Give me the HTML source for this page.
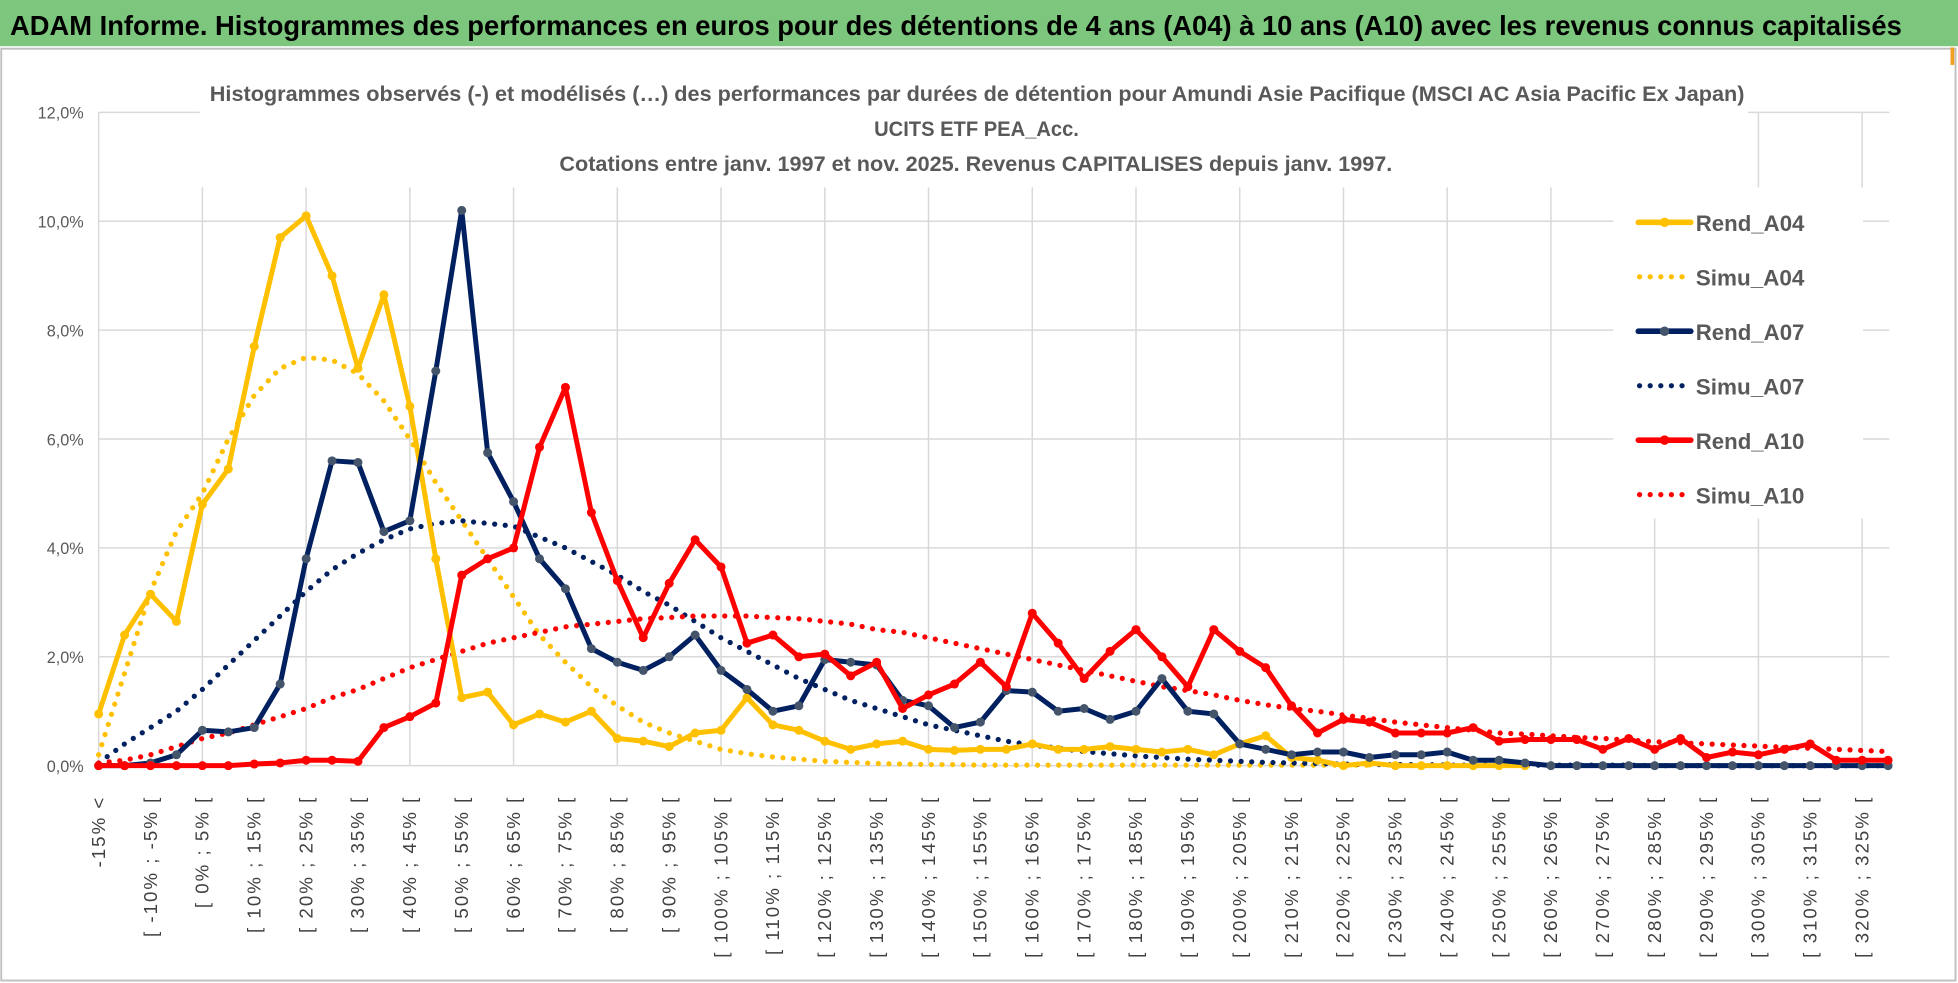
<!DOCTYPE html>
<html><head><meta charset="utf-8"><style>
html,body{margin:0;padding:0;background:#fff;}
svg{display:block;font-family:"Liberation Sans",sans-serif;}
</style></head><body>
<svg id="chart" width="1958" height="983" viewBox="0 0 1568 787" preserveAspectRatio="none" xmlns="http://www.w3.org/2000/svg">
<rect x="0" y="0" width="1568" height="787" fill="#fff"/>
<rect x="0" y="0" width="1568" height="37" fill="#7dc67d"/>
<text x="8" y="28" font-size="22" font-weight="bold" fill="#000" textLength="1515" lengthAdjust="spacingAndGlyphs">ADAM Informe. Histogrammes des performances en euros pour des détentions de 4 ans (A04) à 10 ans (A10) avec les revenus connus capitalisés</text>
<rect x="1" y="39" width="1565" height="746" fill="none" stroke="#bfbfbf" stroke-width="1.5"/>
<rect x="1562" y="38" width="3" height="14" fill="#f0a020"/>
<g id="grid"></g>
<rect x="160" y="58" width="1240" height="92" fill="#fff"/>
<g font-weight="bold" fill="#595959" font-size="17">
<text x="168" y="81" textLength="1229" lengthAdjust="spacingAndGlyphs">Histogrammes observés (-)  et modélisés (…)  des performances par durées de détention pour Amundi Asie Pacifique (MSCI AC Asia Pacific Ex Japan)</text>
<text x="782" y="109" text-anchor="middle" textLength="164" lengthAdjust="spacingAndGlyphs">UCITS ETF PEA_Acc.</text>
<text x="448" y="137" textLength="667" lengthAdjust="spacingAndGlyphs">Cotations entre janv. 1997 et nov. 2025. Revenus CAPITALISES depuis janv. 1997.</text>
</g>
<g id="yaxis"></g>
<g id="xaxis"></g>
<g id="series"></g>
<rect x="1292" y="150" width="200" height="265" fill="#fff"/>
<g id="legend"></g>
</svg>
<script>
const categories = (function(){const c=["-15% <"];for(let i=1;i<70;i++){const a=-15+5*(i-1);c.push("[ "+a+"% ; "+(a+5)+"% [");}return c;})();
const yTicks = [0,2,4,6,8,10,12];
const yTickLabels = ["0,0%","2,0%","4,0%","6,0%","8,0%","10,0%","12,0%"];
const rendA04 = [0.95,2.4,3.15,2.65,4.8,5.45,7.7,9.7,10.1,9.0,7.3,8.65,6.6,3.8,1.25,1.35,0.75,0.95,0.8,1.0,0.5,0.45,0.35,0.6,0.65,1.25,0.75,0.65,0.45,0.3,0.4,0.45,0.3,0.28,0.3,0.3,0.4,0.3,0.3,0.35,0.3,0.25,0.3,0.2,0.4,0.55,0.15,0.1,0.0,0.05,0,0,0,0,0,0,null,null,null,null,null,null,null,null,null,null,null,null,null,null];
const simuA04 = [0.2,1.7,3.2,4.3,5.0,6.0,6.8,7.3,7.5,7.45,7.2,6.7,6.0,5.2,4.5,3.8,3.1,2.4,1.9,1.45,1.1,0.8,0.6,0.45,0.3,0.22,0.16,0.12,0.08,0.06,0.04,0.03,0.02,0.02,0.01,0.01,0.01,0.01,0.01,0.01,0.01,0.01,0.01,0.01,0.01,0.01,0.01,0.01,0.01,0.01,null,null,null,null,null,null,null,null,null,null,null,null,null,null,null,null,null,null,null,null];
const rendA07 = [0,0,0.05,0.2,0.65,0.62,0.7,1.5,3.8,5.6,5.57,4.3,4.5,7.25,10.2,5.75,4.85,3.8,3.25,2.15,1.9,1.75,2.0,2.4,1.75,1.4,1.0,1.1,1.95,1.9,1.85,1.2,1.1,0.7,0.8,1.38,1.35,1.0,1.05,0.85,1.0,1.6,1.0,0.95,0.4,0.3,0.2,0.25,0.25,0.15,0.2,0.2,0.25,0.1,0.1,0.05,0,0,0,0,0,0,0,0,0,0,0,0,0,0];
const simuA07 = [0.05,0.4,0.7,1.0,1.4,1.85,2.3,2.75,3.2,3.6,3.9,4.15,4.35,4.45,4.5,4.45,4.4,4.2,4.0,3.75,3.5,3.2,2.95,2.65,2.35,2.1,1.85,1.6,1.4,1.2,1.05,0.9,0.75,0.65,0.55,0.45,0.38,0.32,0.26,0.22,0.18,0.15,0.12,0.1,0.08,0.06,0.05,0.04,0.03,0.02,0.02,0.02,0.01,0.01,0.01,0.01,0.01,0.01,0.01,0.01,0,0,0,0,0,0,0,0,0,0];
const rendA10 = [0,0,0,0,0,0,0.03,0.05,0.1,0.1,0.08,0.7,0.9,1.15,3.5,3.8,4.0,5.85,6.95,4.65,3.4,2.35,3.35,4.15,3.65,2.25,2.4,2.0,2.05,1.65,1.9,1.05,1.3,1.5,1.9,1.45,2.8,2.25,1.6,2.1,2.5,2.0,1.45,2.5,2.1,1.8,1.1,0.6,0.85,0.8,0.6,0.6,0.6,0.7,0.45,0.48,0.48,0.48,0.3,0.5,0.3,0.5,0.15,0.25,0.2,0.3,0.4,0.1,0.1,0.1];
const simuA10 = [0.05,0.1,0.2,0.35,0.5,0.6,0.75,0.9,1.05,1.25,1.4,1.6,1.8,1.95,2.1,2.25,2.35,2.45,2.55,2.6,2.65,2.7,2.72,2.75,2.75,2.75,2.72,2.7,2.65,2.6,2.5,2.45,2.35,2.25,2.15,2.05,1.95,1.85,1.75,1.65,1.55,1.45,1.38,1.3,1.2,1.12,1.05,1.0,0.93,0.87,0.8,0.75,0.7,0.65,0.6,0.58,0.55,0.52,0.5,0.47,0.44,0.42,0.4,0.38,0.36,0.34,0.32,0.3,0.28,0.26];

const NS="http://www.w3.org/2000/svg";
const X0=79, X1=1512, Y0=613, Y12=90;
function xPos(i){return X0+(X1-X0)*i/(categories.length-1);}
function yPos(v){return Y0-(Y0-Y12)*v/12;}
function mk(tag,attrs,parent){const e=document.createElementNS(NS,tag);for(const k in attrs)e.setAttribute(k,attrs[k]);parent.appendChild(e);return e;}

const grid=document.getElementById('grid');
yTicks.forEach(function(t){
  const l=mk('line',{x1:X0,x2:1513,y1:yPos(t),y2:yPos(t),stroke:'#d9d9d9','stroke-width':1.2},grid);
  
  
});
for(let i=0;i<categories.length;i+=4){
  const l=mk('line',{x1:xPos(i),x2:xPos(i),y1:Y12,y2:Y0,stroke:'#d9d9d9','stroke-width':1.2},grid);
  
  
}
const ya=document.getElementById('yaxis');
yTicks.forEach(function(t,k){
  const tx=mk('text',{x:67,y:yPos(t)+5,'text-anchor':'end','font-size':13,fill:'#595959'},ya);
  tx.textContent=yTickLabels[k];
  
  
});
const xa=document.getElementById('xaxis');
for(let i=0;i<categories.length;i+=2){
  const x=xPos(i)+5, y=637;
  const tx=mk('text',{x:x,y:y,'text-anchor':'end','font-size':15,'letter-spacing':1.6,fill:'#404040',transform:'rotate(-90 '+x+' '+y+')'},xa);
  tx.textContent=categories[i];
  
  
}
const ser=document.getElementById('series');
function segs(data){const out=[];let cur=[];data.forEach(function(v,i){if(v===null){if(cur.length)out.push(cur);cur=[];}else cur.push([xPos(i),yPos(v)]);});if(cur.length)out.push(cur);return out;}
function drawDotted(data,color,name){
  segs(data).forEach(function(s){
    const p=mk('polyline',{points:s.map(function(q){return q.join(',');}).join(' '),fill:'none',stroke:color,'stroke-width':4.2,'stroke-linecap':'round','stroke-dasharray':'0 8.5'},ser);
    
    
  });
}
function drawSolid(data,color,mcolor,name){
  segs(data).forEach(function(s){
    const p=mk('polyline',{points:s.map(function(q){return q.join(',');}).join(' '),fill:'none',stroke:color,'stroke-width':4,'stroke-linejoin':'round'},ser);
    
    
    s.forEach(function(q){
      const c=mk('circle',{cx:q[0],cy:q[1],r:3.6,fill:mcolor},ser);
      
      
    });
  });
}
drawDotted(simuA04,'#ffc000','simu-a04-line');
drawDotted(simuA07,'#002060','simu-a07-line');
drawDotted(simuA10,'#ff0000','simu-a10-line');
drawSolid(rendA04,'#ffc000','#ffc000','rend-a04-line');
drawSolid(rendA07,'#002060','#44546a','rend-a07-line');
drawSolid(rendA10,'#ff0000','#ff0000','rend-a10-line');

const lg=document.getElementById('legend');
const legendItems=[["Rend_A04","#ffc000",false,"#ffc000"],["Simu_A04","#ffc000",true],["Rend_A07","#002060",false,"#44546a"],["Simu_A07","#002060",true],["Rend_A10","#ff0000",false,"#ff0000"],["Simu_A10","#ff0000",true]];
legendItems.forEach(function(it,k){
  const y=178+k*43.6;
  const g=mk('g',{},lg);
  
  
  if(it[2]){
    mk('line',{x1:1313,x2:1352,y1:y,y2:y,stroke:it[1],'stroke-width':4.2,'stroke-linecap':'round','stroke-dasharray':'0 8.5'},g);
  } else {
    mk('line',{x1:1312,x2:1354,y1:y,y2:y,stroke:it[1],'stroke-width':4.5,'stroke-linecap':'round'},g);
    mk('circle',{cx:1333,cy:y,r:3.8,fill:it[3]},g);
  }
  const t=mk('text',{x:1358,y:y+7,'font-size':18,'font-weight':'bold',fill:'#595959',textLength:87,lengthAdjust:'spacingAndGlyphs'},g);
  t.textContent=it[0];
});
</script>
</body></html>
